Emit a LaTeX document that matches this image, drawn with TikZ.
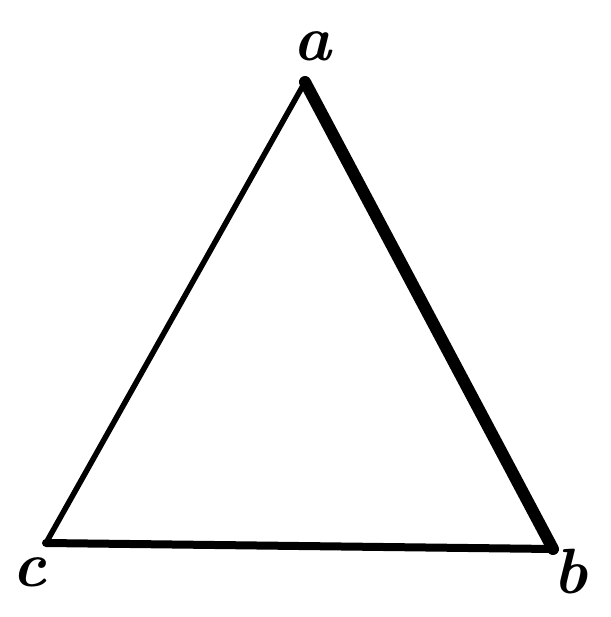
\documentclass[tikz,border=0pt]{standalone}
\begin{document}
\begin{tikzpicture}[x=1pt,y=-1pt,
  edge/.style={line cap=round,line join=round,black},
  lbl/.style={font=\fontsize{64}{64}\selectfont\bfseries\itshape,inner sep=0pt}]
\useasboundingbox (0,0) rectangle (610,617);
\coordinate (A) at (305,82);
\coordinate (C) at (46,543);
\coordinate (B) at (553,549);
\draw[edge,line width=5.5pt] (A) -- (C);
\draw[edge,line width=12pt] (A) -- (B);
\draw[edge,line width=8pt] (C) -- (B);
\node[lbl] (la) at (312,46) {a};
\node[lbl] (lc) at (30,572) {c};
\node[lbl] (lb) at (571,572) {b};
\end{tikzpicture}
\end{document}
